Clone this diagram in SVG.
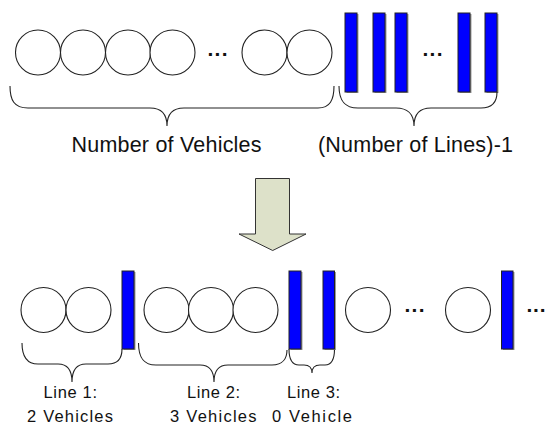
<svg xmlns="http://www.w3.org/2000/svg" width="549" height="424" viewBox="0 0 549 424">
<defs>
<style>
.veh{fill:#fff;stroke:#222;stroke-width:1.1}
.bar{fill:#0000ff;stroke:#222;stroke-width:1}
.sh{fill:#999;stroke:none}
.br{fill:none;stroke:#222;stroke-width:1.1}
.t{font-family:"Liberation Sans",Arial,sans-serif;fill:#111}
.big{font-size:21.5px}
.sm{font-size:16.5px}
.dots{font-family:"Liberation Sans",Arial,sans-serif;font-size:21px;font-weight:bold;fill:#111}
</style>
</defs>
<rect width="549" height="424" fill="#fff"/>
<g id="top-vehicles">
<circle class="veh" cx="38" cy="52.5" r="22.5"/>
<circle class="veh" cx="83" cy="52.5" r="22.5"/>
<circle class="veh" cx="128" cy="52.5" r="22.5"/>
<circle class="veh" cx="172.5" cy="52.5" r="22.5"/>
<text class="dots" x="207.5" y="56" textLength="20" lengthAdjust="spacing">...</text>
<circle class="veh" cx="264.5" cy="52.5" r="22.5"/>
<circle class="veh" cx="309.5" cy="52.5" r="22.5"/>
</g>
<g id="top-lines">
<rect class="sh" x="346.5" y="14" width="12" height="79"/>
<rect class="bar" x="345" y="13" width="12" height="79"/>
<rect class="sh" x="374.5" y="14" width="12" height="79"/>
<rect class="bar" x="373" y="13" width="12" height="79"/>
<rect class="sh" x="396.5" y="14" width="12" height="79"/>
<rect class="bar" x="395" y="13" width="12" height="79"/>
<text class="dots" x="422.5" y="56" textLength="20" lengthAdjust="spacing">...</text>
<rect class="sh" x="459.5" y="14" width="12" height="79"/>
<rect class="bar" x="458" y="13" width="12" height="79"/>
<rect class="sh" x="486.5" y="14" width="12" height="79"/>
<rect class="bar" x="485" y="13" width="12" height="79"/>
</g>
<g id="connectors">
<path class="br" d="M10,86 C10,100 14,108 28,108 L150,108 C161,108 167,114 167,126 C167,114 173,108 184,108 L318,108 C330,108 334,100 334,86"/>
<path class="br" d="M339,86 C339,100 344,108 358,108 L396,108 C407,108 414,114 414,126 C414,114 420,108 431,108 L481,108 C493,108 497,102 497,92"/>
<path class="br" d="M22,343 C22,356 26,364 38,364 L58,364 C67,364 72,370 72,382 C72,370 77,364 86,364 L108,364 C118,364 122,358 122,349"/>
<path class="br" d="M138.5,343 C138.5,357 143,365 156,365 L200,365 C209,365 214,371 214,382 C214,371 219,365 228,365 L272,365 C283,365 287,358 287,350"/>
<path class="br" d="M289,349 C289,360 292,365 299,365 L304,365 C309,365 312,368 312,373 C312,368 315,365 320,365 L325,365 C331,365 334.5,360 334.5,349"/>
</g>
<g id="label-vehicles">
<text class="t big" x="71.5" y="152" textLength="190" lengthAdjust="spacing">Number of Vehicles</text>
</g>
<g id="label-lines">
<text class="t big" x="318" y="151.5" textLength="195" lengthAdjust="spacing">(Number of Lines)-1</text>
</g>
<g id="arrow">
<path d="M255.5,178.5 L289.5,178.5 L289.5,234 L306,234 L272.7,250.5 L239,234 L255.5,234 Z" fill="#dde1c9" stroke="#333" stroke-width="1"/>
</g>
<g id="bottom-row">
<circle class="veh" cx="43.5" cy="310" r="22.5"/>
<circle class="veh" cx="88.5" cy="310" r="22.5"/>
<rect class="sh" x="123.5" y="272" width="12" height="78"/>
<rect class="bar" x="122" y="271" width="12" height="78"/>
<circle class="veh" cx="166.5" cy="310" r="22.5"/>
<circle class="veh" cx="211" cy="310" r="22.5"/>
<circle class="veh" cx="255.5" cy="310" r="22.5"/>
<rect class="sh" x="290.5" y="272" width="12" height="78"/>
<rect class="bar" x="289" y="271" width="12" height="78"/>
<rect class="sh" x="324.5" y="272" width="11.5" height="78"/>
<rect class="bar" x="323" y="271" width="11.5" height="78"/>
<circle class="veh" cx="368" cy="310" r="22.5"/>
<text class="dots" x="404.5" y="312" textLength="20" lengthAdjust="spacing">...</text>
<circle class="veh" cx="468" cy="310" r="22.5"/>
<rect class="sh" x="503" y="272" width="11.5" height="78"/>
<rect class="bar" x="501.5" y="271" width="11.5" height="78"/>
<text class="dots" x="526.5" y="312" textLength="19" lengthAdjust="spacing">...</text>
</g>
<g id="label-line1">
<text class="t sm" x="43.5" y="398" textLength="53.5" lengthAdjust="spacing">Line 1:</text>
<text class="t sm" x="27" y="421.5" textLength="86" lengthAdjust="spacing">2 Vehicles</text>
</g>
<g id="label-line2">
<text class="t sm" x="187" y="398" textLength="53" lengthAdjust="spacing">Line 2:</text>
<text class="t sm" x="170" y="421.5" textLength="86.5" lengthAdjust="spacing">3 Vehicles</text>
</g>
<g id="label-line3">
<text class="t sm" x="287" y="398" textLength="53" lengthAdjust="spacing">Line 3:</text>
<text class="t sm" x="272" y="421.5" textLength="80" lengthAdjust="spacing">0 Vehicle</text>
</g>
</svg>
